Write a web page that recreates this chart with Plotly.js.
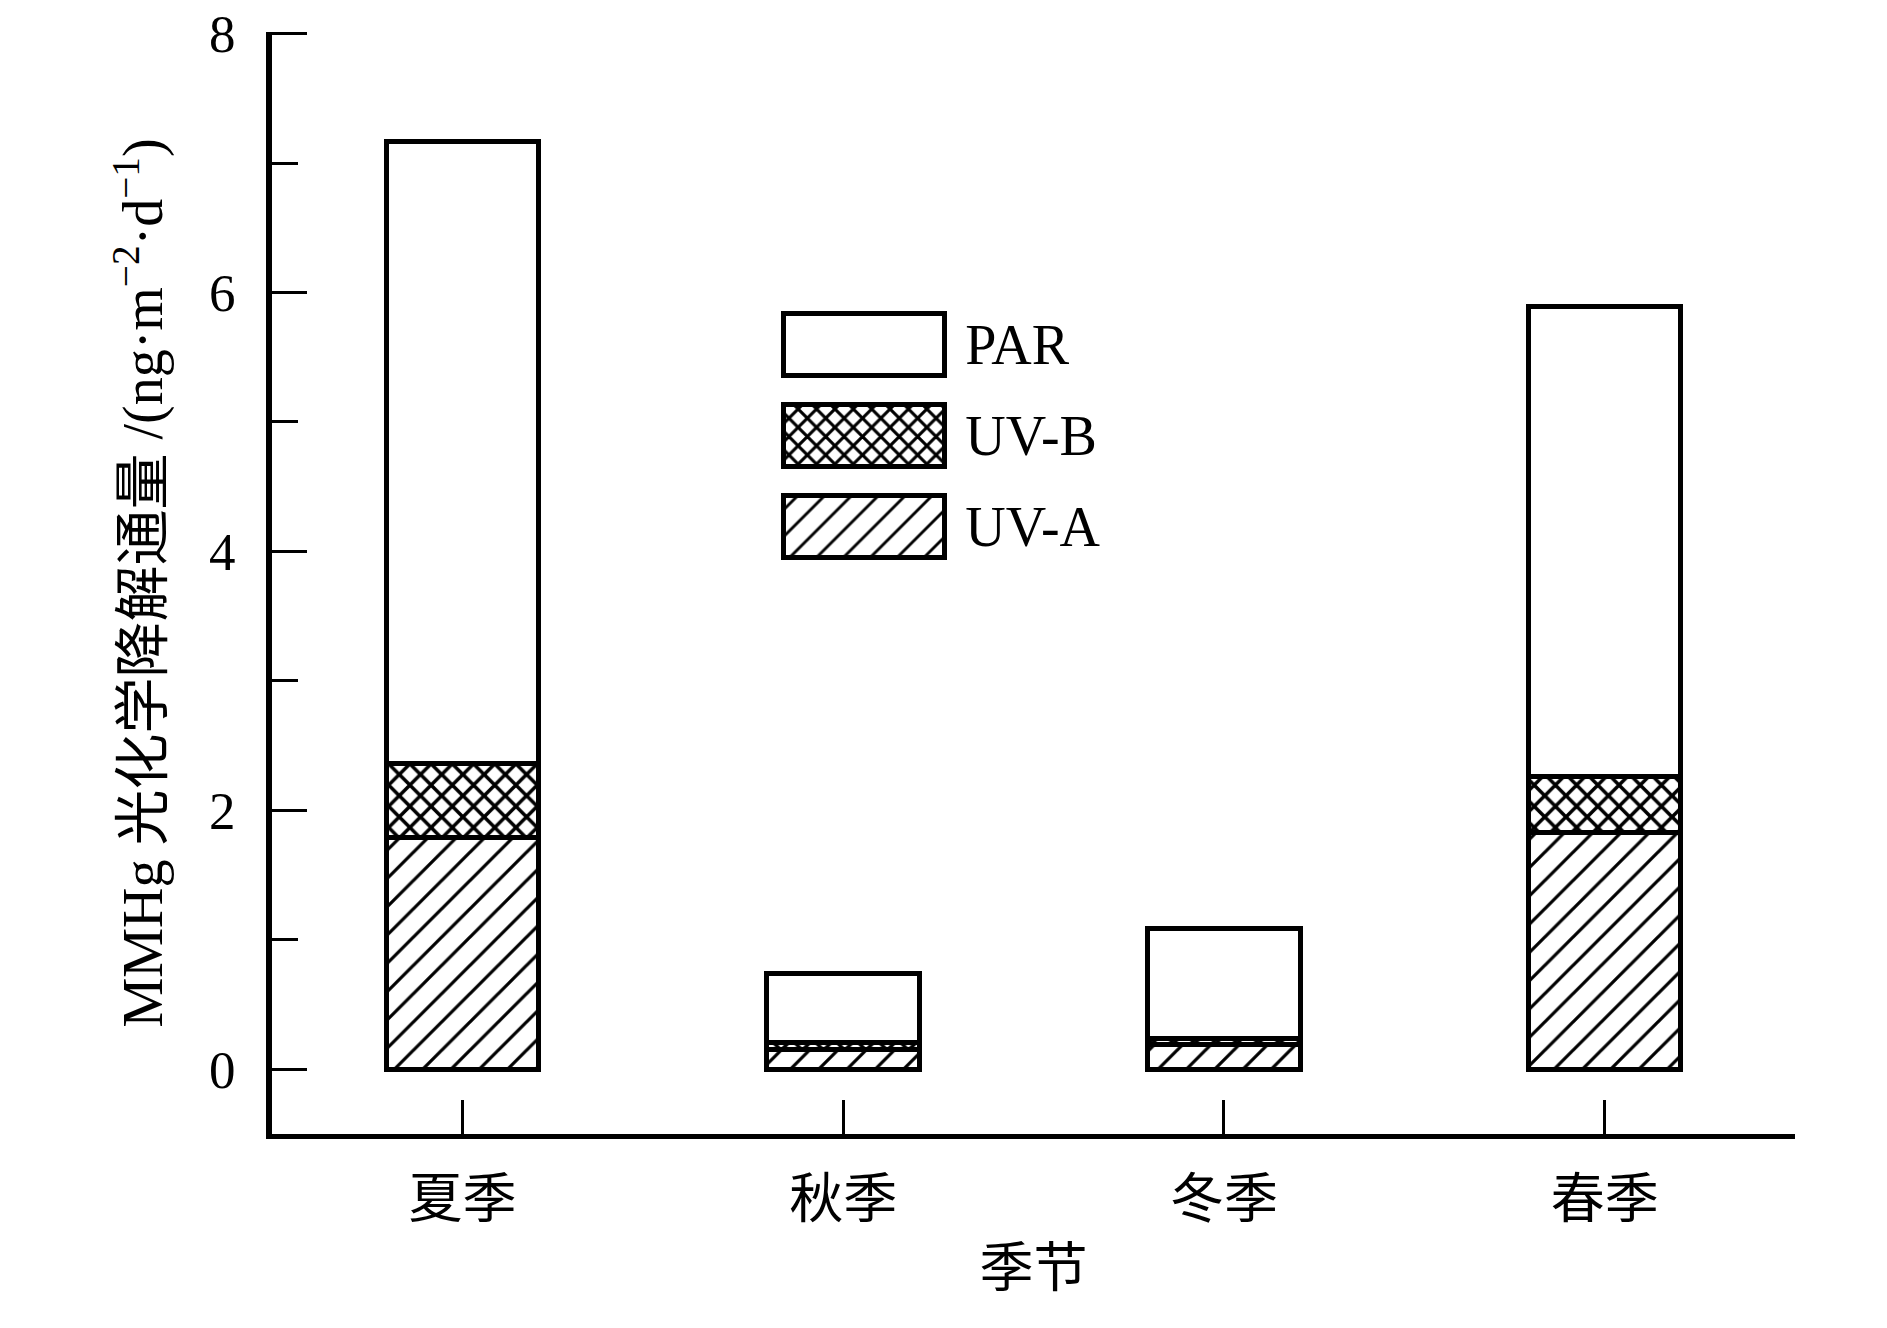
<!DOCTYPE html>
<html>
<head>
<meta charset="utf-8">
<script src="https://cdn.plot.ly/plotly-3.0.1.min.js"></script>
<style>
  html, body { margin: 0; padding: 0; background: #fff; }
  #chart { width: 1887px; height: 1328px; }
</style>
</head>
<body>
<div id="chart"></div>
<script>
// ---- data ----
const seasons = ['夏季', '秋季', '冬季', '春季'];
const uvA = [1.79, 0.15, 0.19, 1.83];
const uvB = [0.57, 0.06, 0.05, 0.43];
const par = [4.81, 0.53, 0.85, 3.63];
const seriesNames = ['UV-A', 'UV-B', 'PAR'];
const legendKeys = ['PAR', 'UV-B', 'UV-A'];
const legendShapes = ['', 'x', '/'];
const yTicks = [0, 2, 4, 6, 8];

const FONT = 'Liberation Serif, Times New Roman, Noto Sans CJK SC, serif';
const outline = { color: '#000', width: 5 };

const mainBar = (name, y, shape, size, solidity) => ({
  type: 'bar',
  name: name,
  x: seasons,
  y: y,
  width: 0.4,
  showlegend: false,
  hoverinfo: 'skip',
  marker: {
    color: '#fff',
    line: outline,
    pattern: { shape: shape, fgcolor: '#000', bgcolor: '#fff', size: size, solidity: solidity, fillmode: 'replace' }
  }
});

const traces = [
  mainBar(seriesNames[0], uvA, '/', 20, 0.16),
  mainBar(seriesNames[1], uvB, 'x', 15, 0.42),
  mainBar(seriesNames[2], par, '', 8, 0.3),
  {
    type: 'bar',
    orientation: 'h',
    x: legendKeys.map(() => 1),
    y: legendKeys,
    xaxis: 'x2',
    yaxis: 'y2',
    width: 0.68,
    showlegend: false,
    hoverinfo: 'skip',
    marker: {
      color: '#fff',
      line: outline,
      pattern: { shape: legendShapes, fgcolor: '#000', bgcolor: '#fff', size: [8, 13, 19], solidity: [0.3, 0.42, 0.15], fillmode: 'replace' }
    }
  }
];

const layout = {
  width: 1887,
  height: 1328,
  margin: { l: 272, r: 92, t: 32, b: 194 },
  paper_bgcolor: '#fff',
  plot_bgcolor: '#fff',
  barmode: 'stack',
  showlegend: false,
  font: { family: FONT, color: '#000', size: 54 },
  xaxis: {
    type: 'category',
    range: [-0.5, 3.5],
    showline: true,
    linecolor: '#000',
    linewidth: 5,
    ticks: 'inside',
    ticklen: 34,
    tickwidth: 3,
    tickcolor: '#000',
    showgrid: false,
    zeroline: false,
    ticklabelstandoff: 14,
    tickfont: { family: FONT, size: 54 },
    title: { text: '季节', font: { family: FONT, size: 54 }, standoff: 22 }
  },
  yaxis: {
    range: [-0.5, 8.012],
    showline: true,
    linecolor: '#000',
    linewidth: 6,
    ticks: 'inside',
    ticklen: 35,
    tickwidth: 3,
    tickcolor: '#000',
    tickvals: yTicks,
    ticktext: yTicks.map(String),
    ticklabeloverflow: 'allow',
    minor: { dtick: 1, tick0: 0, ticks: 'inside', ticklen: 26, tickwidth: 3, tickcolor: '#000', showgrid: false },
    showgrid: false,
    zeroline: false,
    ticklabelstandoff: 20,
    tickfont: { family: FONT, size: 53 },
    title: { text: 'MMHg 光化学降解通量 /(ng·m<sup>−2</sup>·d<sup>−1</sup>)', font: { family: FONT, size: 56 }, standoff: 30 }
  },
  xaxis2: {
    domain: [0.3334, 0.4440],
    range: [-0.02, 1.02],
    anchor: 'y2',
    visible: false,
    fixedrange: true
  },
  yaxis2: {
    domain: [0.5100, 0.7580],
    anchor: 'x2',
    type: 'category',
    range: [2.5, -0.5],
    side: 'right',
    showline: false,
    showgrid: false,
    zeroline: false,
    ticks: '',
    ticklabelstandoff: 16,
    tickfont: { family: FONT, size: 56 },
    fixedrange: true
  }
};

Plotly.newPlot('chart', traces, layout, { displayModeBar: false, staticPlot: true });
</script>
</body>
</html>
